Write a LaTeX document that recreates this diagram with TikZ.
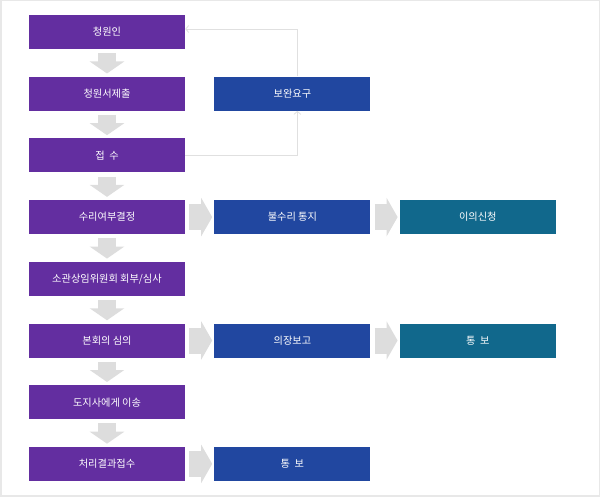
\documentclass[tikz,border=0pt]{standalone}
\usepackage{fontspec}
\setmainfont{Noto Sans CJK KR}
\usetikzlibrary{positioning,arrows.meta}
\definecolor{stepviolet}{RGB}{99,46,160}
\definecolor{stepblue}{RGB}{33,71,160}
\definecolor{stepteal}{RGB}{17,104,140}
\definecolor{arrowgray}{RGB}{221,221,221}
\definecolor{linegray}{RGB}{224,224,224}
\definecolor{framegray}{RGB}{232,232,232}

\begin{document}
\begin{tikzpicture}[x=1pt, y=-1pt, node distance=27.3pt and 29pt,
        flowbox/.style={rectangle, minimum width=156pt, minimum height=34pt, inner sep=0pt, text=white, font=\fontsize{10.2}{12}\selectfont},
        vbox/.style={flowbox, fill=stepviolet},
        bbox/.style={flowbox, fill=stepblue},
        tbox/.style={flowbox, fill=stepteal},
        fatdown/.style={draw=arrowgray, line width=18pt, -{Triangle[length=12pt,width=34pt]}, shorten <=4pt, shorten >=3pt},
        fatright/.style={draw=arrowgray, line width=26pt, -{Triangle[length=11pt,width=38pt]}, shorten <=4pt, shorten >=2pt},
        link/.style={draw=linegray, line width=0.8pt, -{Straight Barb[length=3pt,width=7pt]}}]
        \useasboundingbox (0,0) rectangle (600,497);
        \draw[framegray, line width=1.5pt] (0.75,0.75) rectangle (599.25,495.75);

        \node[vbox] (petitioner) at (107,32) {청원인};
        \node[vbox, below=of petitioner] (submit) {청원서제출};
        \node[vbox, below=of submit] (receipt) {접 \ 수};
        \node[vbox, below=of receipt] (decision) {수리여부결정};
        \node[vbox, below=of decision] (committee) {소관상임위원회 회부/심사};
        \node[vbox, below=of committee] (plenary) {본회의 심의};
        \node[vbox, below=of plenary] (governor) {도지사에게 이송};
        \node[vbox, below=of governor] (result) {처리결과접수};

        \node[bbox, right=of submit] (supplement) {보완요구};
        \node[bbox, right=of decision] (rejection) {불수리 통지};
        \node[tbox, right=of rejection] (objection) {이의신청};
        \node[bbox, right=of plenary] (report) {의장보고};
        \node[tbox, right=of report] (notice) {통 \ 보};
        \node[bbox, right=of result] (resultnotice) {통 \ 보};

        \draw[fatdown] (petitioner) -- (submit);
        \draw[fatdown] (submit) -- (receipt);
        \draw[fatdown] (receipt) -- (decision);
        \draw[fatdown] (decision) -- (committee);
        \draw[fatdown] (committee) -- (plenary);
        \draw[fatdown] (plenary) -- (governor);
        \draw[fatdown] (governor) -- (result);

        \draw[fatright] (decision) -- (rejection);
        \draw[fatright] (rejection) -- (objection);
        \draw[fatright] (plenary) -- (report);
        \draw[fatright] (report) -- (notice);
        \draw[fatright] (result) -- (resultnotice);

        \draw[link] (receipt.east) -| ([xshift=5pt]supplement.south);
        \draw[link] ([xshift=5pt]supplement.north) |- ([yshift=3pt]petitioner.east);
    \end{tikzpicture}
\end{document}
